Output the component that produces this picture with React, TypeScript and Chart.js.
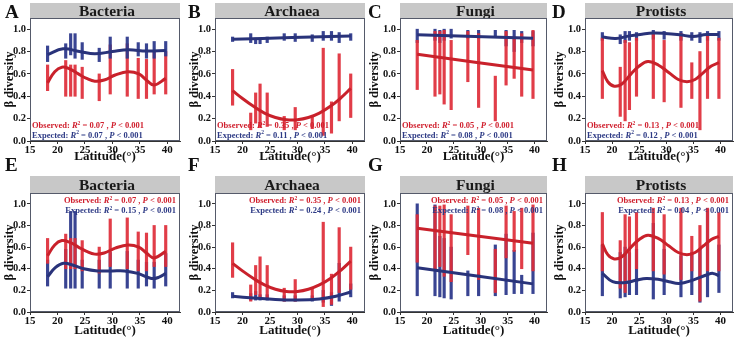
import React, { useEffect, useRef } from "react";
import { Chart, registerables } from "chart.js";
Chart.register(...registerables);

// ---------- data ----------
const latitudes = [18.2, 21.5, 22.4, 23.2, 24.5, 27.6, 29.6, 32.7, 34.7, 36.2, 37.6, 39.7];
const xTickValues = [15, 20, 25, 30, 35, 40];
const yTickValues = [0, 0.2, 0.4, 0.6, 0.8, 1.0];

// Bacteria
const bactObsMin = [0.45, 0.40, 0.40, 0.40, 0.38, 0.36, 0.42, 0.40, 0.38, 0.38, 0.42, 0.42];
const bactObsMax = [0.68, 0.72, 0.68, 0.68, 0.66, 0.60, 0.86, 0.87, 0.74, 0.73, 0.80, 0.80];
const bactExpAMin = [0.71, 0.74, 0.77, 0.74, 0.73, 0.71, 0.74, 0.74, 0.76, 0.74, 0.74, 0.76];
const bactExpAMax = [0.85, 0.87, 0.96, 0.96, 0.88, 0.83, 0.93, 0.93, 0.88, 0.87, 0.89, 0.89];
const bactExpEMin = [0.24, 0.22, 0.22, 0.22, 0.22, 0.22, 0.22, 0.22, 0.22, 0.24, 0.22, 0.24];
const bactExpEMax = [0.48, 0.58, 0.93, 0.93, 0.48, 0.48, 0.55, 0.56, 0.48, 0.46, 0.46, 0.54];
const bactObsCurveX = [18.2, 19.5, 20.8, 22.2, 23.8, 25.3, 26.8, 28.5, 30.5, 32.8, 34.8, 36.3, 37.6, 39.7];
const bactObsCurveY = [0.52, 0.62, 0.66, 0.645, 0.60, 0.56, 0.535, 0.545, 0.59, 0.62, 0.60, 0.54, 0.50, 0.56];
const bactExpACurveX = [18.2, 21.0, 24.0, 26.8, 30.0, 32.9, 36.2, 39.7];
const bactExpACurveY = [0.773, 0.824, 0.80, 0.78, 0.80, 0.815, 0.805, 0.81];
const bactExpECurveX = [18.2, 19.6, 21.1, 23.0, 24.8, 27.3, 30.0, 32.2, 34.6, 37.1, 38.4, 39.7];
const bactExpECurveY = [0.326, 0.41, 0.45, 0.43, 0.40, 0.38, 0.38, 0.38, 0.357, 0.31, 0.32, 0.357];

// Archaea
const archObsMin = [0.32, 0.10, 0.16, 0.12, 0.13, 0.10, 0.10, 0.11, 0.05, 0.07, 0.18, 0.21];
const archObsMax = [0.64, 0.25, 0.43, 0.51, 0.43, 0.22, 0.30, 0.22, 0.83, 0.35, 0.78, 0.60];
const archExpBMin = [0.89, 0.88, 0.87, 0.87, 0.88, 0.90, 0.89, 0.89, 0.90, 0.90, 0.88, 0.90];
const archExpBMax = [0.93, 0.96, 0.92, 0.92, 0.93, 0.96, 0.96, 0.95, 0.98, 0.98, 0.97, 0.96];
const archExpFMin = [0.13, 0.11, 0.11, 0.11, 0.11, 0.10, 0.10, 0.10, 0.09, 0.06, 0.10, 0.14];
const archExpFMax = [0.18, 0.17, 0.19, 0.16, 0.16, 0.15, 0.15, 0.15, 0.20, 0.18, 0.45, 0.26];
const archObsCurveX = [18.2, 20, 22, 24, 26, 28, 30, 32, 34, 36, 38, 39.7];
const archObsCurveY = [0.45, 0.38, 0.31, 0.25, 0.21, 0.19, 0.19, 0.21, 0.25, 0.31, 0.39, 0.47];
const archExpBCurveX = [18.2, 29.0, 39.7];
const archExpBCurveY = [0.91, 0.925, 0.94];
const archExpFCurveX = [18.2, 22, 26, 30, 34, 37, 39.7];
const archExpFCurveY = [0.145, 0.13, 0.115, 0.11, 0.12, 0.145, 0.185];

// Fungi
const fungObsMin = [0.46, 0.40, 0.42, 0.33, 0.28, 0.53, 0.30, 0.18, 0.50, 0.56, 0.40, 0.38];
const fungObsMax = [0.90, 0.98, 0.98, 0.99, 0.90, 0.98, 0.96, 0.58, 0.98, 0.93, 0.96, 0.99];
const fungExpCMin = [0.88, 0.90, 0.88, 0.90, 0.92, 0.92, 0.92, 0.93, 0.85, 0.80, 0.88, 0.85];
const fungExpCMax = [1.0, 1.0, 0.99, 1.0, 1.0, 0.99, 0.99, 0.99, 0.99, 0.99, 0.98, 0.98];
const fungExpGMin = [0.15, 0.15, 0.14, 0.13, 0.12, 0.15, 0.15, 0.15, 0.16, 0.17, 0.17, 0.17];
const fungExpGMax = [1.0, 0.99, 0.70, 0.68, 0.60, 0.38, 0.35, 0.62, 0.72, 0.57, 0.34, 0.73];
const fungObsCurveX = [18.2, 39.7];
const fungObsCurveY = [0.775, 0.635];
const fungExpCCurveX = [18.2, 39.7];
const fungExpCCurveY = [0.95, 0.92];
const fungExpGCurveX = [18.2, 39.7];
const fungExpGCurveY = [0.41, 0.26];

// Protists
const protObsMin = [0.38, 0.22, 0.18, 0.28, 0.40, 0.38, 0.35, 0.30, 0.38, 0.10, 0.38, 0.38];
const protObsMax = [0.92, 0.66, 0.90, 0.88, 0.92, 0.96, 0.90, 0.96, 0.70, 0.80, 0.96, 0.92];
const protExpDMin = [0.90, 0.87, 0.88, 0.90, 0.90, 0.91, 0.91, 0.90, 0.90, 0.88, 0.90, 0.90];
const protExpDMax = [0.97, 0.95, 0.98, 0.98, 0.97, 0.99, 0.98, 0.98, 0.97, 0.97, 0.98, 0.98];
const protExpHMin = [0.15, 0.13, 0.14, 0.16, 0.16, 0.12, 0.16, 0.14, 0.16, 0.09, 0.14, 0.18];
const protExpHMax = [0.62, 0.55, 0.60, 0.55, 0.58, 0.82, 0.58, 0.52, 0.55, 0.58, 0.95, 0.62];
const protObsCurveX = [18.2, 19.2, 20.4, 21.8, 23.5, 25, 26.6, 28.5, 30.5, 32.2, 33.8, 35.3, 36.8, 38.3, 39.7];
const protObsCurveY = [0.63, 0.53, 0.49, 0.51, 0.60, 0.67, 0.71, 0.68, 0.61, 0.55, 0.53, 0.55, 0.61, 0.67, 0.70];
const protExpDCurveX = [18.2, 20.7, 23.2, 25.5, 27.5, 29.7, 32.5, 34.9, 37.4, 39.7];
const protExpDCurveY = [0.93, 0.917, 0.94, 0.955, 0.965, 0.962, 0.95, 0.935, 0.952, 0.952];
const protExpHCurveX = [18.2, 20.1, 22.5, 24.5, 26.3, 28.7, 30.5, 32.4, 34.9, 37.4, 38.6, 39.7];
const protExpHCurveY = [0.357, 0.28, 0.273, 0.295, 0.31, 0.30, 0.28, 0.264, 0.295, 0.342, 0.357, 0.335];

// Statistics text
const letters = ["A", "B", "C", "D", "E", "F", "G", "H"];
const titles = ["Bacteria", "Archaea", "Fungi", "Protists", "Bacteria", "Archaea", "Fungi", "Protists"];
const obsR2 = ["0.07", "0.35", "0.05", "0.13", "0.07", "0.35", "0.05", "0.13"];
const expR2 = ["0.07", "0.11", "0.08", "0.12", "0.15", "0.24", "0.08", "0.04"];

// ---------- styles ----------
const RED_PT = "rgba(222,44,56,0.92)";
const RED_LINE = "#c9212b";
const BLUE_PT = "rgba(46,58,140,0.95)";
const BLUE_LINE = "#29337a";
const RED_TXT = "#d0202e";
const BLUE_TXT = "#2d3a85";
const SERIF = "'Liberation Serif', 'Times New Roman', serif";

const stripes = (mins: number[], maxs: number[]) =>
  latitudes.map((x, i) => ({ x, y: [mins[i], maxs[i]] }));
const curve = (xs: number[], ys: number[]) => xs.map((x, i) => ({ x, y: ys[i] }));

type PanelSpec = {
  idx: number;
  left: number; top: number; w: number; h: number;
  cLeft: number; cRight: number; cTop: number; cBottom: number;
  stripTop: number;
  bottomRow: boolean;
  redOnTop: boolean;
  obs: { x: number; y: number[] }[];
  exp: { x: number; y: number[] }[];
  obsCurve: { x: number; y: number }[];
  expCurve: { x: number; y: number }[];
};

const colLefts = [0, 185, 365, 550];
const colWidths = [185, 180, 185, 186];
const colCLeft = [30, 30, 35, 35];
const colCRight = [180, 180, 182, 183];

const panelData = [
  { obs: stripes(bactObsMin, bactObsMax), exp: stripes(bactExpAMin, bactExpAMax), oc: curve(bactObsCurveX, bactObsCurveY), ec: curve(bactExpACurveX, bactExpACurveY), redOnTop: false },
  { obs: stripes(archObsMin, archObsMax), exp: stripes(archExpBMin, archExpBMax), oc: curve(archObsCurveX, archObsCurveY), ec: curve(archExpBCurveX, archExpBCurveY), redOnTop: true },
  { obs: stripes(fungObsMin, fungObsMax), exp: stripes(fungExpCMin, fungExpCMax), oc: curve(fungObsCurveX, fungObsCurveY), ec: curve(fungExpCCurveX, fungExpCCurveY), redOnTop: true },
  { obs: stripes(protObsMin, protObsMax), exp: stripes(protExpDMin, protExpDMax), oc: curve(protObsCurveX, protObsCurveY), ec: curve(protExpDCurveX, protExpDCurveY), redOnTop: true },
  { obs: stripes(bactObsMin, bactObsMax), exp: stripes(bactExpEMin, bactExpEMax), oc: curve(bactObsCurveX, bactObsCurveY), ec: curve(bactExpECurveX, bactExpECurveY), redOnTop: true },
  { obs: stripes(archObsMin, archObsMax), exp: stripes(archExpFMin, archExpFMax), oc: curve(archObsCurveX, archObsCurveY), ec: curve(archExpFCurveX, archExpFCurveY), redOnTop: true },
  { obs: stripes(fungObsMin, fungObsMax), exp: stripes(fungExpGMin, fungExpGMax), oc: curve(fungObsCurveX, fungObsCurveY), ec: curve(fungExpGCurveX, fungExpGCurveY), redOnTop: true },
  { obs: stripes(protObsMin, protObsMax), exp: stripes(protExpHMin, protExpHMax), oc: curve(protObsCurveX, protObsCurveY), ec: curve(protExpHCurveX, protExpHCurveY), redOnTop: true },
];

const panels: PanelSpec[] = panelData.map((d, idx) => {
  const col = idx % 4;
  const bottomRow = idx >= 4;
  const top = bottomRow ? 160 : 0;
  const h = bottomRow ? 179 : 165;
  return {
    idx,
    left: colLefts[col], top, w: colWidths[col], h,
    cLeft: colCLeft[col], cRight: colCRight[col],
    cTop: bottomRow ? 33 : 18, cBottom: bottomRow ? 152 : 141,
    stripTop: bottomRow ? 16 : 3,
    bottomRow,
    redOnTop: d.redOnTop,
    obs: d.obs, exp: d.exp, obsCurve: d.oc, expCurve: d.ec,
  };
});

function drawStat(ctx: CanvasRenderingContext2D, label: string, r2: string, color: string, x: number, y: number, alignRight: boolean) {
  const fs = 8.5;
  const parts = [
    { t: label + ": ", f: `bold ${fs}px ${SERIF}`, dy: 0 },
    { t: "R", f: `italic bold ${fs}px ${SERIF}`, dy: 0 },
    { t: "2", f: `bold ${fs * 0.65}px ${SERIF}`, dy: -3.2 },
    { t: " = " + r2 + " , ", f: `bold ${fs}px ${SERIF}`, dy: 0 },
    { t: "P", f: `italic bold ${fs}px ${SERIF}`, dy: 0 },
    { t: " < 0.001", f: `bold ${fs}px ${SERIF}`, dy: 0 },
  ];
  let total = 0;
  const widths = parts.map((p) => {
    ctx.font = p.f;
    const w = ctx.measureText(p.t).width;
    total += w;
    return w;
  });
  let cx = alignRight ? x - total : x;
  ctx.fillStyle = color;
  ctx.textAlign = "left";
  ctx.textBaseline = "alphabetic";
  parts.forEach((p, i) => {
    ctx.font = p.f;
    ctx.fillText(p.t, cx, y + p.dy);
    cx += widths[i];
  });
}

function Panel({ spec }: { spec: PanelSpec }) {
  const ref = useRef<HTMLCanvasElement>(null);
  useEffect(() => {
    const canvas = ref.current;
    if (!canvas) return;
    const i = spec.idx;
    const decor = {
      id: "decor" + i,
      beforeDraw(chart: any) {
        const { ctx, chartArea: a } = chart;
        ctx.save();
        ctx.fillStyle = "#ffffff";
        ctx.fillRect(a.left, a.top, a.right - a.left, a.bottom - a.top);
        ctx.fillStyle = "#c8c8c8";
        ctx.fillRect(a.left, spec.stripTop, a.right - a.left, a.top - spec.stripTop);
        ctx.fillStyle = "#1a1a1a";
        ctx.font = `bold 15.5px ${SERIF}`;
        ctx.textAlign = "center";
        ctx.textBaseline = "middle";
        ctx.fillText(titles[i], (a.left + a.right) / 2 + 2, (spec.stripTop + a.top) / 2 + 1);
        ctx.restore();
      },
      afterDraw(chart: any) {
        const { ctx, chartArea: a } = chart;
        ctx.save();
        ctx.strokeStyle = "#555a6a";
        ctx.lineWidth = 1;
        ctx.strokeRect(a.left + 0.5, a.top + 0.5, a.right - a.left - 1, a.bottom - a.top - 1);
        if (spec.bottomRow) {
          drawStat(ctx, "Observed", obsR2[i], RED_TXT, a.right - 4, a.top + 10, true);
          drawStat(ctx, "Expected", expR2[i], BLUE_TXT, a.right - 4, a.top + 20, true);
        } else {
          drawStat(ctx, "Observed", obsR2[i], RED_TXT, a.left + 2, a.bottom - 13, false);
          drawStat(ctx, "Expected", expR2[i], BLUE_TXT, a.left + 2, a.bottom - 3.5, false);
        }
        ctx.restore();
      },
    };
    const chart = new Chart(canvas, {
      type: "bar",
      data: {
        datasets: [
          { type: "line", data: spec.obsCurve, borderColor: RED_LINE, borderWidth: 3, pointRadius: 0, tension: 0.4, order: 0 } as any,
          { type: "line", data: spec.expCurve, borderColor: BLUE_LINE, borderWidth: 3, pointRadius: 0, tension: 0.4, order: 1 } as any,
          { type: "bar", data: spec.obs, backgroundColor: RED_PT, barThickness: 2.5, grouped: false, borderWidth: 0, order: spec.redOnTop ? 2 : 3 } as any,
          { type: "bar", data: spec.exp, backgroundColor: BLUE_PT, barThickness: 2.5, grouped: false, borderWidth: 0, order: spec.redOnTop ? 3 : 2 } as any,
        ],
      },
      options: {
        responsive: false,
        animation: false,
        devicePixelRatio: 1,
        layout: { padding: { top: spec.cTop, right: spec.w - spec.cRight, left: 0, bottom: 0 } },
        plugins: { legend: { display: false }, tooltip: { enabled: false }, title: { display: false } },
        scales: {
          x: {
            type: "linear",
            min: 15,
            max: 42.3,
            offset: false,
            grid: { display: true, drawOnChartArea: false, drawTicks: true, tickLength: 3, color: "#333", offset: false },
            border: { display: true, color: "#333" },
            ticks: { color: "#111", font: { family: SERIF, weight: "bold", size: 11 }, padding: 0, maxRotation: 0 },
            afterBuildTicks: (s: any) => { s.ticks = xTickValues.map((v) => ({ value: v })); },
            afterFit: (s: any) => { s.height = spec.h - spec.cBottom; },
            title: { display: true, text: "Latitude(°)", color: "#111", font: { family: SERIF, weight: "bold", size: 13 }, padding: { top: 0, bottom: 1 } },
          },
          y: {
            type: "linear",
            min: 0,
            max: 1.1,
            grid: { display: true, drawOnChartArea: false, drawTicks: true, tickLength: 3, color: "#333" },
            border: { display: true, color: "#333" },
            ticks: { color: "#111", font: { family: SERIF, weight: "bold", size: 10.5 }, padding: 1, callback: (v: any) => Number(v).toFixed(1) },
            afterBuildTicks: (s: any) => { s.ticks = yTickValues.map((v) => ({ value: v })); },
            afterFit: (s: any) => { s.width = spec.cLeft; },
            title: { display: true, text: "β diversity", color: "#111", font: { family: SERIF, weight: "bold", size: 12.5 }, padding: { top: 2, bottom: 0 } },
          },
        },
      } as any,
      plugins: [decor],
    });
    return () => chart.destroy();
  }, []);
  return (
    <canvas
      ref={ref}
      width={spec.w}
      height={spec.h}
      style={{ position: "absolute", left: spec.left, top: spec.top, width: spec.w, height: spec.h }}
    />
  );
}

const letterPos = [
  { x: 5, y: 1.5 }, { x: 188, y: 1.5 }, { x: 368, y: 1.5 }, { x: 552, y: 1.5 },
  { x: 5, y: 155 }, { x: 188, y: 155 }, { x: 368, y: 155 }, { x: 552, y: 155 },
];

export default function App() {
  return (
    <div style={{ position: "absolute", left: 0, top: 0, width: 736, height: 339, background: "#fff", overflow: "hidden" }}>
      {panels.map((p) => (
        <Panel key={p.idx} spec={p} />
      ))}
      {letters.map((l, i) => (
        <div
          key={l}
          style={{
            position: "absolute",
            left: letterPos[i].x,
            top: letterPos[i].y,
            font: `bold 19px ${SERIF}`,
            lineHeight: "19px",
            color: "#111",
          }}
        >
          {l}
        </div>
      ))}
    </div>
  );
}
